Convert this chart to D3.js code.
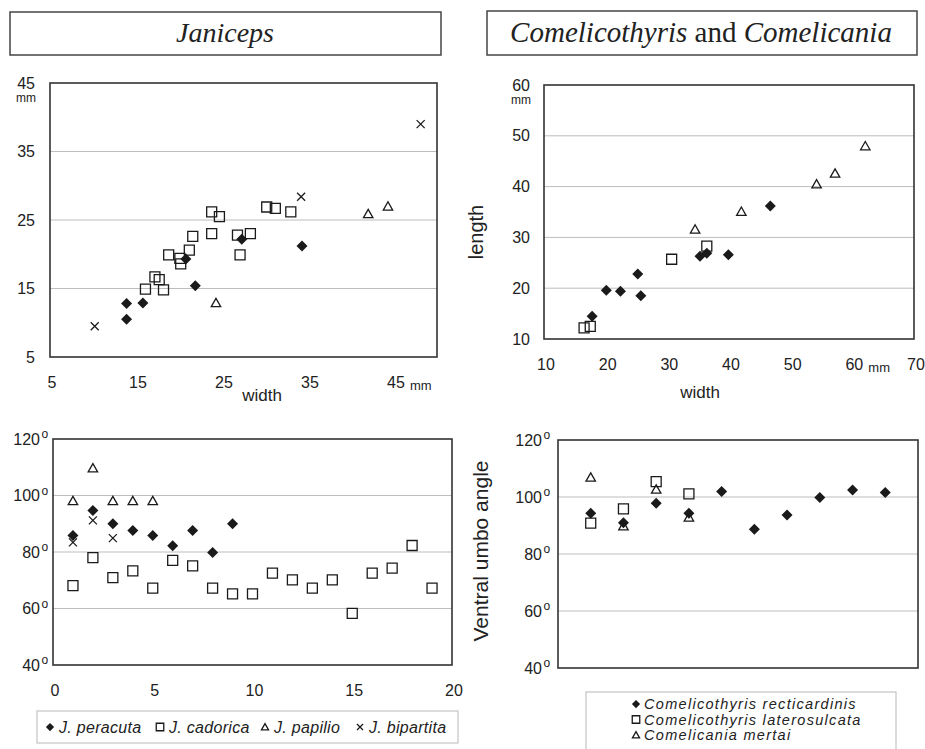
<!DOCTYPE html>
<html lang="en">
<head>
<meta charset="UTF-8" />
<title>Janiceps, Comelicothyris and Comelicania</title>
<script src="https://d3js.org/d3.v7.min.js"></script>
<style>
  body { margin: 0; background: #fff; }
  svg { display: block; font-family: "Liberation Sans", Arial, sans-serif; }
</style>
</head>
<body>
<svg width="925" height="749"></svg>
<script>
// Janiceps: width vs length (mm)
const peracutaWL = [[13.9,12.8],[13.9,10.5],[15.8,12.9],[20.8,19.3],[21.9,15.4],[27.3,22.2],[34.3,21.2]];
const cadoricaWL = [[16.1,14.9],[17.2,16.7],[17.7,16.3],[18.2,14.8],[18.8,19.9],[20.1,19.4],[20.2,18.6],
  [21.2,20.6],[21.6,22.6],[23.8,26.2],[24.7,25.5],[23.8,23.0],[26.8,22.8],[27.1,19.9],[28.3,23.0],
  [30.2,26.9],[31.2,26.7],[33.0,26.2]];
const papilioWL = [[24.3,12.9],[42.0,25.9],[44.3,27.0]];
const bipartitaWL = [[10.2,9.5],[34.2,28.4],[48.1,39.0]];

// Janiceps: ventral umbo angle (degrees), by specimen number 1..n
const peracutaAngle = [85.8,94.7,90.0,87.6,85.8,82.2,87.6,79.8,90.0];
const cadoricaAngle = [68.1,78.0,70.9,73.3,67.2,77.0,75.1,67.2,65.2,65.2,72.5,70.1,67.2,70.1,58.3,72.5,74.3,82.3,67.2];
const papilioAngle = [98.1,109.7,98.1,98.1,98.1];
const bipartitaAngle = [83.4,91.2,84.9];

// Comelicothyris / Comelicania: width vs length (mm)
const recticardinisWL = [[17.8,14.5],[20.1,19.6],[22.4,19.4],[25.2,22.8],[25.7,18.5],[35.3,26.3],[36.4,26.9],[39.9,26.6],[46.7,36.2]];
const laterosulcataWL = [[16.5,12.2],[17.5,12.5],[30.7,25.7],[36.4,28.3]];
const mertaiWL = [[34.5,31.6],[42.0,35.1],[54.2,40.5],[57.2,42.6],[62.1,48.0]];

// Comelicothyris / Comelicania: ventral umbo angle
const recticardinisAngle = [94.3,91.0,97.8,94.3,101.9,88.7,93.7,99.8,102.5,101.6];
const laterosulcataAngle = [90.8,95.8,105.4,101.1];
const mertaiAngle = [106.9,89.8,102.7,92.9];

// tick labels
const janWLTicks = [5,15,25,35,45];
const comWLxTicks = [10,20,30,40,50,60,70];
const comWLyTicks = [10,20,30,40,50,60];
const angleTicks = [40,60,80,100,120];
const janAngleXTicks = [0,5,10,15,20];

const ink = "#1a1a1a";
const svg = d3.select("svg");

const shapes = {
  diamond: s => `M0,${-s}L${s},0L0,${s}L${-s},0Z`,
  square: s => `M${-s},${-s}h${2*s}v${2*s}h${-2*s}Z`,
  triangle: s => `M0,${-s}L${s*1.05},${s*0.85}L${-s*1.05},${s*0.85}Z`,
  cross: s => `M${-s},${-s}L${s},${s}M${s},${-s}L${-s},${s}`
};
const sizes = { diamond: 5.5, square: 5, triangle: 4.5, cross: 4 };

function marker(sel, shape, s) {
  sel.attr("d", shapes[shape](s || sizes[shape]))
    .attr("fill", shape === "diamond" ? ink : "none")
    .attr("stroke", shape === "diamond" ? "none" : ink)
    .attr("stroke-width", 1.3);
}

function panel(o) {
  const g = svg.append("g");
  const x = d3.scaleLinear().domain(o.xDom).range([o.left, o.right]);
  const y = d3.scaleLinear().domain(o.yDom).range([o.bottom, o.top]);

  g.selectAll(".grid").data(o.grid).join("line")
    .attr("x1", o.left).attr("x2", o.right)
    .attr("y1", d => y(d)).attr("y2", d => y(d))
    .attr("stroke", "#bdbdbd").attr("stroke-width", 1);

  g.append("rect")
    .attr("x", o.left).attr("y", o.top)
    .attr("width", o.right - o.left).attr("height", o.bottom - o.top)
    .attr("fill", "none").attr("stroke", "#333").attr("stroke-width", 1.6);

  // y tick labels
  g.selectAll(".yt").data(o.yTicks).join("text")
    .attr("x", o.left - o.yLabGap).attr("y", d => y(d) + 5.5)
    .attr("text-anchor", "end").attr("font-size", 16).attr("fill", "#222")
    .text(d => d);
  if (o.degree) {
    g.selectAll(".deg").data(o.yTicks).join("text")
      .attr("x", o.left - o.yLabGap + 1.5).attr("y", d => y(d) - 1)
      .attr("font-size", 12).attr("fill", "#222").text("o");
  }
  if (o.yUnit) {
    g.append("text").attr("x", o.left - o.yLabGap + 1).attr("y", y(o.yDom[1]) + 19)
      .attr("text-anchor", "end").attr("font-size", 12).attr("fill", "#222").text("mm");
  }

  // x tick labels
  if (o.xTicks) {
    g.selectAll(".xt").data(o.xTicks).join("text")
      .attr("x", d => x(d) + 2).attr("y", o.bottom + 31)
      .attr("text-anchor", "middle").attr("font-size", 16).attr("fill", "#222")
      .text(d => d);
  }
  if (o.xUnit) {
    g.append("text").attr("x", x(o.xUnit) + 16).attr("y", o.bottom + 33)
      .attr("font-size", 13).attr("fill", "#222").text("mm");
  }

  o.series.forEach(s => {
    g.append("g").selectAll("path").data(s.data).join("path")
      .attr("transform", (d, i) => {
        const px = Array.isArray(d) ? d[0] : i + 1;
        const py = Array.isArray(d) ? d[1] : d;
        return `translate(${x(px)},${y(py)})`;
      })
      .call(marker, s.shape);
  });
  return { g, x, y };
}

// ---- titles
function titleBox(x0, y0, w, h) {
  svg.append("rect").attr("x", x0).attr("y", y0).attr("width", w).attr("height", h)
    .attr("fill", "none").attr("stroke", "#444").attr("stroke-width", 1.5);
}
titleBox(10, 12, 431, 43);
titleBox(487, 11, 430, 44);
svg.append("text").attr("x", 225).attr("y", 42).attr("text-anchor", "middle")
  .attr("font-family", "'Liberation Serif', 'Times New Roman', serif").attr("font-style", "italic")
  .attr("font-size", 28).attr("fill", "#222").text("Janiceps");
const t2 = svg.append("text").attr("x", 701).attr("y", 42).attr("text-anchor", "middle")
  .attr("font-family", "'Liberation Serif', 'Times New Roman', serif")
  .attr("font-size", 29).attr("fill", "#222");
t2.append("tspan").attr("font-style", "italic").text("Comelicothyris");
t2.append("tspan").text(" and ");
t2.append("tspan").attr("font-style", "italic").text("Comelicania");

// ---- panel 1: Janiceps width/length
panel({
  left: 50, right: 437, top: 83, bottom: 357,
  xDom: [5, 50], yDom: [5, 45], grid: [15, 25, 35],
  yTicks: janWLTicks, xTicks: janWLTicks, yLabGap: 15, yUnit: true, xUnit: 45,
  series: [
    { data: peracutaWL, shape: "diamond" },
    { data: cadoricaWL, shape: "square" },
    { data: papilioWL, shape: "triangle" },
    { data: bipartitaWL, shape: "cross" }
  ]
});
svg.append("text").attr("x", 262).attr("y", 401).attr("text-anchor", "middle")
  .attr("font-size", 17).attr("fill", "#222").text("width");

// ---- panel 2: Comelicothyris width/length
panel({
  left: 544, right: 914, top: 85, bottom: 339,
  xDom: [10, 70], yDom: [10, 60], grid: [20, 30, 40, 50],
  yTicks: comWLyTicks, xTicks: comWLxTicks, yLabGap: 14, yUnit: true, xUnit: 60,
  series: [
    { data: recticardinisWL, shape: "diamond" },
    { data: laterosulcataWL, shape: "square" },
    { data: mertaiWL, shape: "triangle" }
  ]
});
svg.append("text").attr("x", 700).attr("y", 398).attr("text-anchor", "middle")
  .attr("font-size", 17).attr("fill", "#222").text("width");
svg.append("text").attr("transform", "translate(483,232) rotate(-90)").attr("text-anchor", "middle")
  .attr("font-size", 20).attr("fill", "#222").text("length");

// ---- panel 3: Janiceps angle
panel({
  left: 53, right: 452, top: 439, bottom: 665,
  xDom: [0, 20], yDom: [40, 120], grid: [60, 80, 100],
  yTicks: angleTicks, xTicks: janAngleXTicks, yLabGap: 13, degree: true,
  series: [
    { data: peracutaAngle, shape: "diamond" },
    { data: cadoricaAngle, shape: "square" },
    { data: papilioAngle, shape: "triangle" },
    { data: bipartitaAngle, shape: "cross" }
  ]
});

// ---- panel 4: Comelicothyris angle
panel({
  left: 558, right: 918, top: 440, bottom: 668,
  xDom: [0, 11], yDom: [40, 120], grid: [60, 80, 100],
  yTicks: angleTicks, yLabGap: 16, degree: true,
  series: [
    { data: recticardinisAngle, shape: "diamond" },
    { data: laterosulcataAngle, shape: "square" },
    { data: mertaiAngle, shape: "triangle" }
  ]
});
svg.append("text").attr("transform", "translate(488,551) rotate(-90)").attr("text-anchor", "middle")
  .attr("font-size", 21).attr("fill", "#222").text("Ventral umbo angle");

// ---- legends
const janLegend = [
  { name: "J. peracuta", shape: "diamond", x: 50 },
  { name: "J. cadorica", shape: "square", x: 160 },
  { name: "J. papilio", shape: "triangle", x: 265 },
  { name: "J. bipartita", shape: "cross", x: 360 }
];
svg.append("rect").attr("x", 37).attr("y", 711).attr("width", 421).attr("height", 32)
  .attr("fill", "none").attr("stroke", "#c4c4c4").attr("stroke-width", 1.2);
const jl = svg.append("g").selectAll("g").data(janLegend).join("g")
  .attr("transform", d => `translate(${d.x},727)`);
jl.append("path").each(function (d) { d3.select(this).call(marker, d.shape, sizes[d.shape] * 0.75); });
jl.append("text").attr("x", 9).attr("y", 6).attr("font-size", 16).attr("font-style", "italic")
  .attr("letter-spacing", 0.3).attr("fill", "#222").text(d => d.name);

const comLegend = [
  { name: "Comelicothyris recticardinis", shape: "diamond" },
  { name: "Comelicothyris laterosulcata", shape: "square" },
  { name: "Comelicania mertai", shape: "triangle" }
];
svg.append("rect").attr("x", 586).attr("y", 692).attr("width", 310).attr("height", 70)
  .attr("fill", "none").attr("stroke", "#c4c4c4").attr("stroke-width", 1.2);
const cl = svg.append("g").selectAll("g").data(comLegend).join("g")
  .attr("transform", (d, i) => `translate(636,${704 + i * 15.5})`);
cl.append("path").each(function (d) { d3.select(this).call(marker, d.shape, sizes[d.shape] * 0.75); });
cl.append("text").attr("x", 8).attr("y", 5).attr("font-size", 14.5).attr("font-style", "italic")
  .attr("letter-spacing", 1.3).attr("fill", "#222").text(d => d.name);
</script>
</body>
</html>
